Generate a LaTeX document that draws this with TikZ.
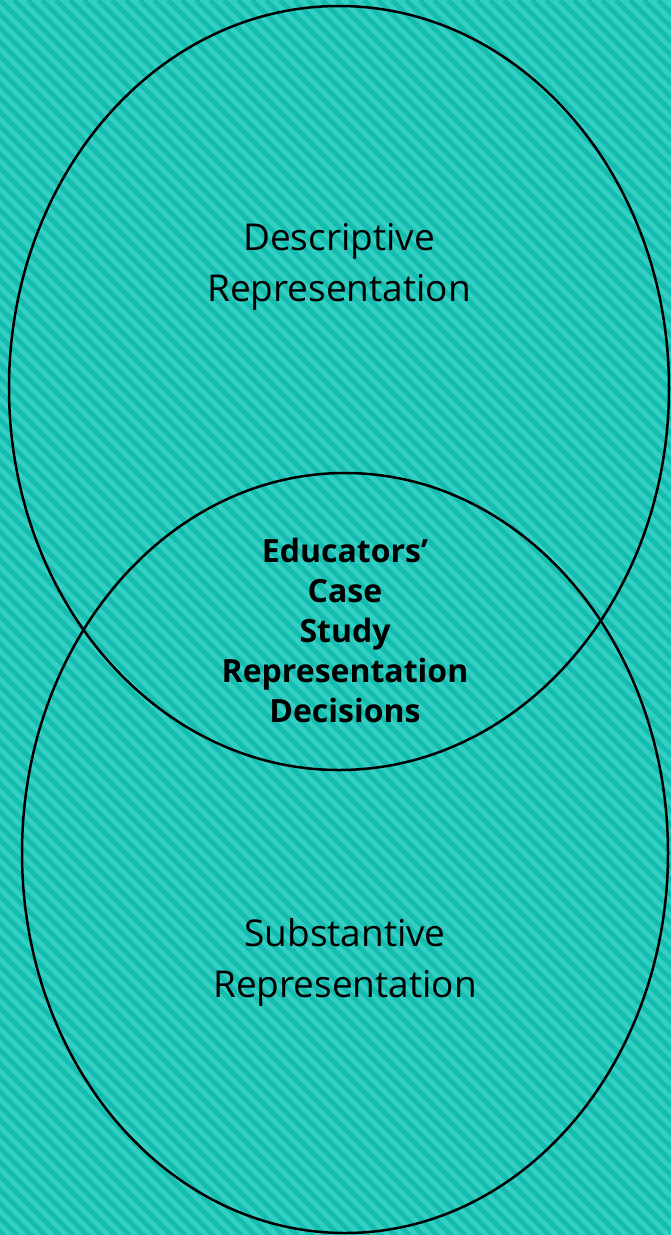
\documentclass[tikz,border=0pt]{standalone}
\usepackage{fontspec}
\setmainfont{Open Sans}
\definecolor{bglight}{HTML}{33CFC2}
\definecolor{bgdark}{HTML}{14BDAF}
\begin{document}
\begin{tikzpicture}[x=1pt,y=-1pt,
  venn/.style={draw=black,line width=2.5pt},
  lbl/.style={align=center,text=black,font=\fontsize{37}{51}\selectfont,inner sep=0pt},
  core/.style={align=center,text=black,font=\bfseries\fontsize{32}{40}\selectfont,inner sep=0pt}]
\useasboundingbox (0,0) rectangle (671,1235);
\fill[bglight] (0,0) rectangle (671,1235);
\begin{scope}
\clip (0,0) rectangle (671,1235);
\foreach \a in {-1246,-1232,...,690} {
  \draw[bgdark,line width=4.8pt] (\a,0) -- (\a+1240,1240);
}
\end{scope}
\draw[venn] (339,388) ellipse [x radius=330,y radius=382];
\draw[venn] (345,853) ellipse [x radius=323,y radius=380];
\node[lbl] (desc) at (339,267) {Descriptive\\Representation};
\node[lbl] (subs) at (345,962) {Substantive\\Representation};
\node[core] (mid) at (345,630) {Educators’\\Case\\Study\\Representation\\Decisions};
\end{tikzpicture}
\end{document}
